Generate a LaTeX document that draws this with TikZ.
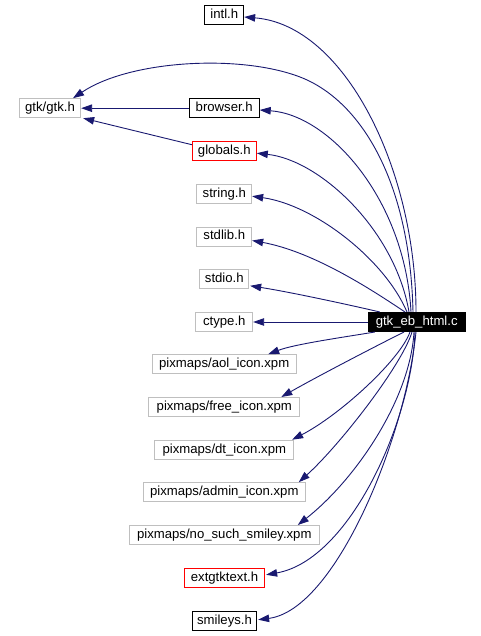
\documentclass[tikz,border=0pt]{standalone}
\usepackage{fontspec}
\setmainfont{Liberation Sans}
\usetikzlibrary{arrows.meta,calc}
\definecolor{edgeblue}{HTML}{191970}
\definecolor{boxgray}{HTML}{BFBFBF}
\definecolor{boxred}{HTML}{FF0000}
\tikzset{
  hbox/.style={draw, line width=1bp, inner sep=0pt, minimum height=19bp, font=\fontsize{13.2}{15}\selectfont, text height=9.5bp, text depth=2.8bp},
  graybox/.style={hbox, draw=boxgray},
  redbox/.style={hbox, draw=boxred},
  blackbox/.style={hbox, draw=black},
  mainbox/.style={hbox, draw=black, fill=black, text=white},
  dep/.style={draw=edgeblue, line width=0.9bp, -{Triangle[length=11bp,width=7.5bp,fill=edgeblue]}}
}
\begin{document}
\begin{tikzpicture}[x=1bp,y=-1bp]
\useasboundingbox (0,0) rectangle (481,636);
\node[blackbox, minimum width=38.7bp] (intl) at (224.3,14.7) {intl.h};
\node[graybox, minimum width=61.3bp] (gtk) at (50,108.2) {gtk/gtk.h};
\node[blackbox, minimum width=70bp] (browser) at (224.2,108.2) {browser.h};
\node[redbox, minimum width=64bp] (globals) at (224.3,150.7) {globals.h};
\node[graybox, minimum width=54.7bp] (string) at (224.3,193.7) {string.h};
\node[graybox, minimum width=54.7bp] (stdlib) at (224.3,236.5) {stdlib.h};
\node[graybox, minimum width=48.7bp] (stdio) at (224.3,278.8) {stdio.h};
\node[graybox, minimum width=56.7bp] (ctype) at (224.3,322) {ctype.h};
\node[mainbox, minimum width=96.7bp] (main) at (416.7,322) {gtk\_eb\_html.c};
\node[graybox, minimum width=144.3bp] (aol) at (224.2,364.2) {pixmaps/aol\_icon.xpm};
\node[graybox, minimum width=150.7bp] (free) at (224.3,407) {pixmaps/free\_icon.xpm};
\node[graybox, minimum width=138.7bp] (dt) at (224.3,449.7) {pixmaps/dt\_icon.xpm};
\node[graybox, minimum width=162bp] (admin) at (224.3,492.2) {pixmaps/admin\_icon.xpm};
\node[graybox, minimum width=190bp] (nosuch) at (224.3,535) {pixmaps/no\_such\_smiley.xpm};
\node[redbox, minimum width=80.3bp] (extgtk) at (224.5,577.8) {extgtktext.h};
\node[blackbox, minimum width=64.3bp] (smileys) at (224.5,620.7) {smileys.h};

% edges into gtk/gtk.h
\draw[dep] (browser.west) -- (gtk.east);
\draw[dep] ($(globals.west)+(0,-6)$) -- ($(gtk.south east)+(2,0)$);

% edges from main, upper half
\draw[dep] ($(main.north)+(-0.7,0)$) .. controls (416,170) and (345,25) .. ($(intl.east)+(0,2.3)$);
\draw[dep] ($(main.north)+(-3.7,0)$) .. controls (410,180) and (360,100) .. (300,77) .. controls (240,54) and (130,60) .. ($(gtk.north)+(23,0)$);
\draw[dep] ($(main.north)+(-5.7,0)$) .. controls (405,200) and (330,115) .. ($(browser.east)+(0,1.8)$);
\draw[dep] ($(main.north)+(-7.7,0)$) .. controls (395,230) and (320,160) .. ($(globals.east)+(0,2.5)$);
\draw[dep] ($(main.north)+(-9.7,0)$) .. controls (385,260) and (315,205) .. ($(string.east)+(0,2.5)$);
\draw[dep] ($(main.north)+(-11.7,0)$) .. controls (375,292) and (315,252) .. ($(stdlib.east)+(0,4)$);
\draw[dep] ($(main.north west)+(12,0)$) .. controls (350,305) and (290,292) .. ($(stdio.east)+(1,7)$);
\draw[dep] (main.west) -- (ctype.east);

% edges from main, lower half
\draw[dep] ($(main.south west)+(7,0)$) .. controls (345,337) and (295,344) .. ($(aol.north)+(44,0)$);
\draw[dep] ($(main.south)+(-12.7,0)$) .. controls (380,344) and (320,375) .. ($(free.north)+(57,0)$);
\draw[dep] ($(main.south)+(-6.7,0)$) .. controls (400,360) and (340,415) .. ($(dt.north east)+(-2,0)$);
\draw[dep] ($(main.south)+(-4.7,0)$) .. controls (402,365) and (340,445) .. ($(admin.north east)+(-7,0)$);
\draw[dep] ($(main.south)+(-2.7,0)$) .. controls (410,400) and (355,480) .. ($(nosuch.north east)+(-22,0)$);
\draw[dep] ($(main.south)+(-1.7,0)$) .. controls (412,420) and (350,560) .. ($(extgtk.east)+(1,-3)$);
\draw[dep] ($(main.south)+(-0.7,0)$) .. controls (405,440) and (335,610) .. ($(smileys.east)+(1,-1)$);
\end{tikzpicture}
\end{document}
